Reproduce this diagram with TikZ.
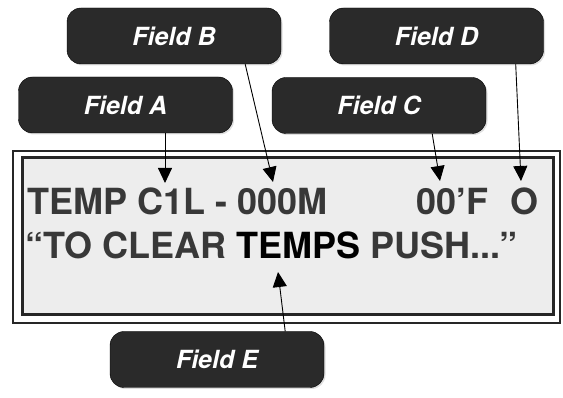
\documentclass[tikz,border=0pt]{standalone}
\usepackage{fontspec}
\setmainfont{TeX Gyre Heros}
\usepackage{xcolor}
\usepackage{tikz}
\definecolor{panelgray}{HTML}{EDEDED}
\definecolor{inkgray}{HTML}{383838}
\definecolor{labelfill}{HTML}{2A2A2A}
\tikzset{
    fieldbox/.style={draw=black, fill=labelfill, rounded corners=14pt,
                     minimum width=214pt, minimum height=56pt, inner sep=0pt,
                     text=white, font=\fontsize{25}{25}\selectfont\bfseries\itshape,
                     drop shadow={opacity=0.25, shadow xshift=1.5pt, shadow yshift=-1.5pt}},
  readout/.style={anchor=base west, inner sep=0pt, text=inkgray,
                  font=\fontsize{36}{36}\selectfont\bfseries},
  pointer/.style={-{Triangle[width=14pt, length=15pt]}, line width=0.9pt, black}
}
\usetikzlibrary{
  positioning, arrows.meta, shadows
}

\begin{document}
\begin{tikzpicture}[x=1pt, y=-1pt]
    \useasboundingbox (0,0) rectangle (563,398);
    \draw[line width=2.6pt, draw=black!85, fill=white] (13,151) rectangle (560,323);
    \draw[line width=3pt, draw=black!85, fill=panelgray] (22,158) rectangle (553,315);

    \node[readout] (codeline) at (27,215) {TEMP C1L - 000M};
    \node[readout] (tempval) at (416,215) {00’F};
    \node[readout] (status) at (510,215) {O};
    \node[readout] (msgline) at (25,259) {“TO CLEAR \textcolor{black}{TEMPS} PUSH...”};

    \coordinate (tipA) at (165,183);
    \coordinate (tipB) at (273,182);
    \coordinate (tipC) at (440,181);
    \coordinate (tipD) at (521,181);
    \coordinate (tipE) at (278,272);

    \node[fieldbox] (fieldA) at (125.5,105) {Field A};
    \node[fieldbox] (fieldB) at (174,36) {Field B};
    \node[fieldbox] (fieldC) at (379,105.5) {Field C};
    \node[fieldbox] (fieldD) at (436.5,36) {Field D};
    \node[fieldbox] (fieldE) at (217,359.5) {Field E};

    \draw[pointer] (fieldA.south -| tipA) -- (tipA);
    \draw[pointer] ([xshift=-36pt]fieldB.south east) -- (tipB);
    \draw[pointer] ([xshift=-54pt]fieldC.south east) -- (tipC);
    \draw[pointer] ([xshift=-28pt]fieldD.south east) -- (tipD);
    \draw[pointer] ([xshift=-39pt]fieldE.north east) -- (tipE);
\end{tikzpicture}
\end{document}
